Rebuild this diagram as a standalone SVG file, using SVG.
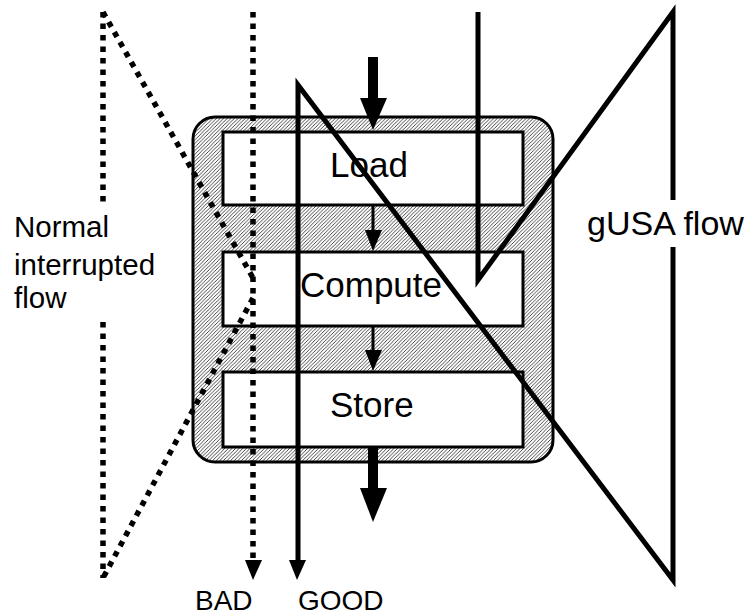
<svg xmlns="http://www.w3.org/2000/svg" width="754" height="615" viewBox="0 0 754 615">
<style>
.t{font-family:"Liberation Sans",Arial,sans-serif;fill:#000}
.box{fill:#fff;stroke:#000;stroke-width:3}
.dot{fill:none;stroke:#000;stroke-width:5.5;stroke-dasharray:5.5 6}
.sol{fill:none;stroke:#000;stroke-width:5;stroke-linejoin:miter}
</style>
<defs>
<pattern id="hatch" patternUnits="userSpaceOnUse" width="3.6" height="3.6">
<rect width="3.6" height="3.6" fill="#fff"/>
<path d="M-0.9,0.9 l1.8,-1.8 M0,3.6 l3.6,-3.6 M2.7,4.5 l1.8,-1.8" stroke="#333" stroke-width="0.9"/>
</pattern>
</defs>
<g id="container">
<rect x="193" y="117" width="360" height="345" rx="22" fill="url(#hatch)" stroke="#000" stroke-width="3"/>
</g>
<g id="load">
<rect class="box" x="223" y="132" width="300" height="73"/>
<text class="t" x="330" y="177" font-size="35">Load</text>
</g>
<g id="compute">
<rect class="box" x="223" y="252" width="300" height="74"/>
<text class="t" x="300" y="297" font-size="35">Compute</text>
</g>
<g id="store">
<rect class="box" x="223" y="372" width="300" height="75"/>
<text class="t" x="330" y="417" font-size="35">Store</text>
</g>
<g id="connectors">
<line x1="373" y1="57" x2="373" y2="100" stroke="#000" stroke-width="10"/>
<polygon points="360,98 387,98 373,130"/>
<line x1="373" y1="205" x2="373" y2="232" stroke="#000" stroke-width="3"/>
<polygon points="365,230 382,230 373,251"/>
<line x1="373" y1="326" x2="373" y2="352" stroke="#000" stroke-width="3"/>
<polygon points="365,350 382,350 373,371"/>
<line x1="373" y1="447" x2="373" y2="490" stroke="#000" stroke-width="10"/>
<polygon points="360,488 387,488 373,522"/>
<line class="dot" x1="103" y1="12" x2="103" y2="203"/>
<line class="dot" x1="103" y1="12" x2="253" y2="278"/>
<line class="dot" x1="253" y1="298" x2="103" y2="578"/>
<line class="dot" x1="103" y1="322" x2="103" y2="578"/>
<line class="dot" x1="253" y1="12" x2="253" y2="562"/>
<polygon points="245,560 262,560 253,580"/>
<polyline class="sol" points="478,12 478,280 673,12 673,200"/>
<polyline class="sol" points="673,247 673,580 298,85 298,562"/>
<polygon points="289,560 306,560 297,580"/>
</g>
<g id="labels">
<text class="t" x="14" y="237" font-size="29.5">Normal</text>
<text class="t" x="14" y="275" font-size="29.5">interrupted</text>
<text class="t" x="14" y="308" font-size="29.5">flow</text>
<text class="t" x="587" y="235" font-size="34">gUSA flow</text>
<text class="t" x="195" y="610" font-size="28">BAD</text>
<text class="t" x="298" y="610" font-size="28">GOOD</text>
</g>
</svg>
